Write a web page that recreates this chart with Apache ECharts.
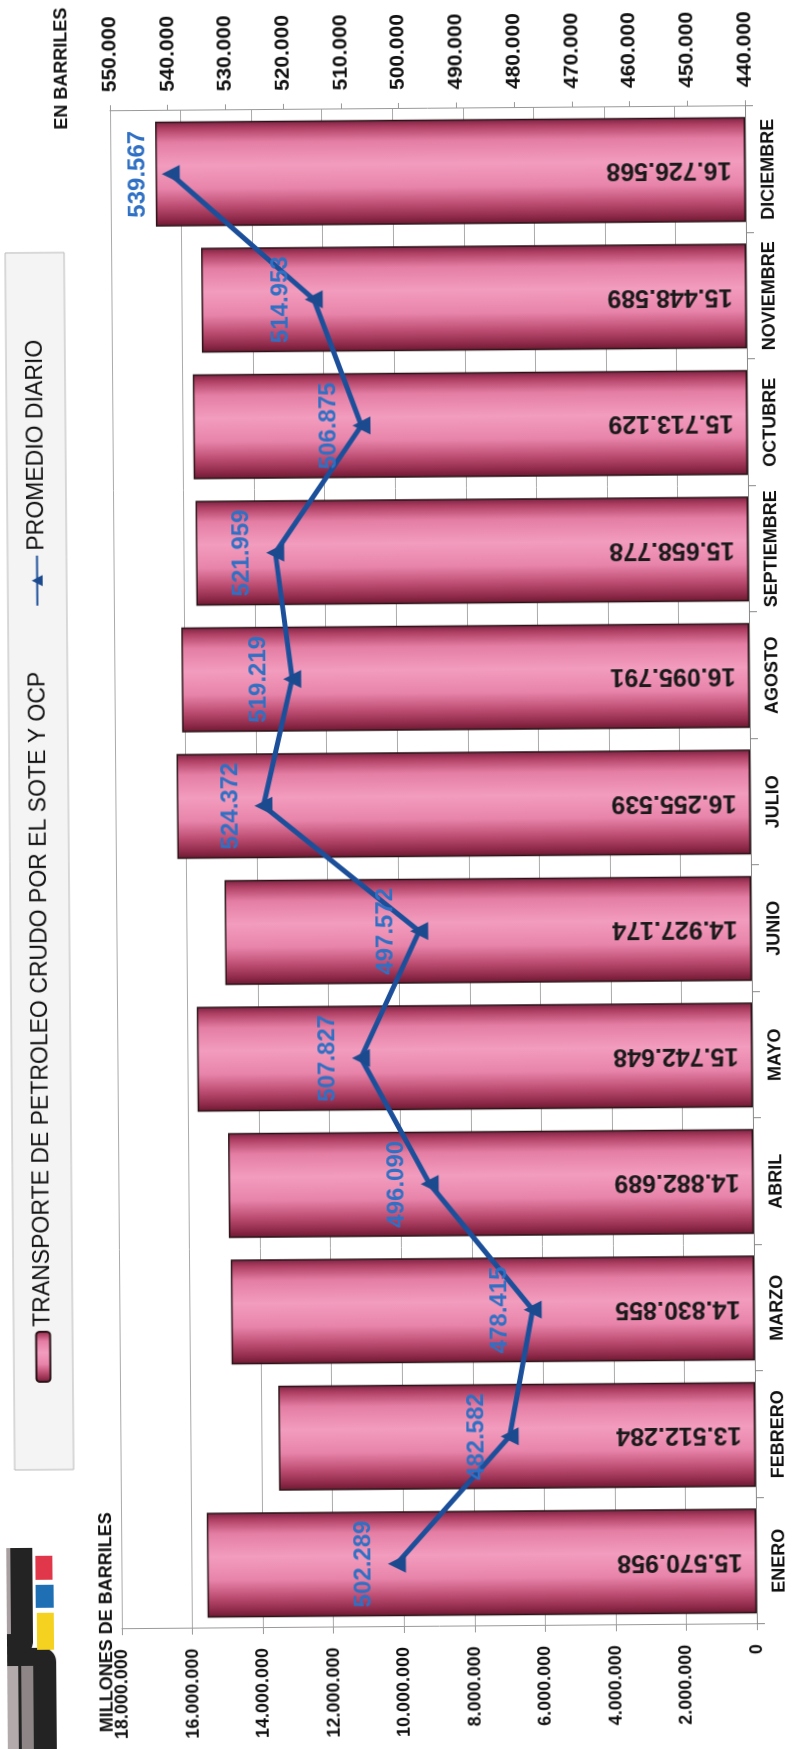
<!DOCTYPE html>
<html>
<head>
<meta charset="utf-8">
<title>Transporte de petroleo crudo</title>
<script src="https://cdn.jsdelivr.net/npm/echarts@6.0.0/dist/echarts.min.js"></script>
<style>
  html, body { margin: 0; padding: 0; background: #fff; }
  #page { position: relative; width: 794px; height: 1749px; overflow: hidden; transform: rotate(-0.45deg); }
  /* the sheet is printed sideways: draw it landscape and turn it */
  #chart { position: absolute; left: 0; top: 0; width: 1749px; height: 794px;
           transform-origin: 0 0; transform: translate(0px, 1749px) rotate(-90deg); }
</style>
</head>
<body>
<div id="page"><div id="chart"></div></div>
<script>
var months = ['ENERO', 'FEBRERO', 'MARZO', 'ABRIL', 'MAYO', 'JUNIO', 'JULIO', 'AGOSTO', 'SEPTIEMBRE', 'OCTUBRE', 'NOVIEMBRE', 'DICIEMBRE']
var barrelsMonth = [15570958, 13512284, 14830855, 14882689, 15742648, 14927174, 16255539, 16095791, 15658778, 15713129, 15448589, 16726568]
var dailyAvg = [502289, 482582, 478415, 496090, 507827, 497572, 524372, 519219, 521959, 506875, 514953, 539567]
var barName = 'TRANSPORTE DE PETROLEO CRUDO POR EL SOTE Y OCP'
var lineName = 'PROMEDIO DIARIO'

var font = 'Liberation Sans, Arial, sans-serif'

function fmt(v) {
  return String(Math.round(v)).replace(/\B(?=(\d{3})+(?!\d))/g, '.')
}

var chart = echarts.init(document.getElementById('chart'), null, { renderer: 'canvas' })

// cylinder look, dark rims and a pink middle
var barFill = new echarts.graphic.LinearGradient(0, 0, 1, 0, [
  { offset: 0, color: '#6a1830' },
  { offset: 0.07, color: '#8f2a4a' },
  { offset: 0.2, color: '#bf4f74' },
  { offset: 0.36, color: '#e884aa' },
  { offset: 0.58, color: '#f29cbe' },
  { offset: 0.8, color: '#e47da3' },
  { offset: 0.93, color: '#b04165' },
  { offset: 1, color: '#7a2140' }
])

chart.setOption({
  animation: false,
  textStyle: { fontFamily: font },
  legend: {
    left: 282,
    top: 10,
    padding: [18, 87],
    itemGap: 65,
    itemWidth: 50,
    itemHeight: 14,
    backgroundColor: '#f4f4f4',
    borderColor: '#b8b8b8',
    borderWidth: 1,
    textStyle: { fontSize: 23, color: '#111', fontFamily: font },
    data: [
      { name: barName, icon: 'roundRect' },
      { name: lineName }
    ]
  },
  grid: { left: 122, right: 109, top: 116, bottom: 43 },
  xAxis: {
    type: 'category',
    data: months,
    axisLine: { lineStyle: { color: '#888', width: 1 } },
    axisTick: { show: true, length: 8, lineStyle: { color: '#888' } },
    axisLabel: { interval: 0, fontSize: 18, fontWeight: 'bold', color: '#111', margin: 14 }
  },
  yAxis: [
    {
      type: 'value',
      min: 0,
      max: 18000000,
      interval: 2000000,
      axisLine: { show: true, lineStyle: { color: '#999' } },
      axisTick: { show: true, length: 6, lineStyle: { color: '#999' } },
      splitLine: { show: true, lineStyle: { color: '#aaa', width: 1 } },
      axisLabel: { fontSize: 18, fontWeight: 'bold', color: '#111', margin: 20, formatter: fmt }
    },
    {
      type: 'value',
      position: 'right',
      min: 440000,
      max: 550000,
      interval: 10000,
      axisLine: { show: true, lineStyle: { color: '#999' } },
      axisTick: { show: true, length: 6, lineStyle: { color: '#999' } },
      splitLine: { show: false },
      axisLabel: { fontSize: 21, fontWeight: 'bold', color: '#111', margin: 19, formatter: fmt }
    }
  ],
  series: [
    {
      name: barName,
      type: 'bar',
      yAxisIndex: 0,
      data: barrelsMonth,
      barCategoryGap: '17%',
      itemStyle: { color: barFill, borderColor: '#2a1418', borderWidth: 1.5 },
      label: {
        show: true,
        position: 'insideBottom',
        distance: 14,
        rotate: 90,
        align: 'left',
        verticalAlign: 'middle',
        fontSize: 25,
        fontWeight: 'bold',
        color: '#1a1a1a',
        formatter: function(p) { return fmt(p.value) }
      },
      z: 2
    },
    {
      name: lineName,
      type: 'line',
      yAxisIndex: 1,
      data: dailyAvg,
      symbol: 'triangle',
      symbolSize: 18,
      lineStyle: { color: '#1c4f9a', width: 5 },
      itemStyle: { color: '#1b4a8f' },
      label: {
        show: true,
        position: 'top',
        distance: 12,
        fontSize: 24,
        fontWeight: 'bold',
        color: '#2f70c4',
        formatter: function(p) { return fmt(p.value) }
      },
      z: 5
    }
  ],
  graphic: [
    // axis titles
    { type: 'text', left: 19, top: 92, style: { text: 'MILLONES DE BARRILES', font: 'bold 18px ' + font, fill: '#111' } },
    { type: 'text', right: 5, top: 59, style: { text: 'EN BARRILES', font: 'bold 18px ' + font, fill: '#111' } },
    // logo corner
    { type: 'rect', shape: { x: -11, y: 0, width: 115, height: 50, r: [0, 0, 14, 0] }, style: { fill: '#232323' } },
    { type: 'rect', shape: { x: 0, y: 0, width: 86, height: 12 }, style: { fill: '#b3abab' } },
    { type: 'rect', shape: { x: 0, y: 15, width: 86, height: 12 }, style: { fill: '#8e8686' } },
    { type: 'rect', shape: { x: 99, y: -10, width: 105, height: 37, r: [0, 0, 0, 10] }, style: { fill: '#232323' } },
    { type: 'rect', shape: { x: 118, y: 0, width: 86, height: 5 }, style: { fill: '#a8a0a0' } },
    { type: 'rect', shape: { x: 172, y: 30, width: 24, height: 17 }, style: { fill: '#e0384a' } },
    { type: 'rect', shape: { x: 144, y: 30, width: 23, height: 18 }, style: { fill: '#1f6fb5' } },
    { type: 'rect', shape: { x: 102, y: 31, width: 37, height: 17 }, style: { fill: '#f5d220' } }
  ]
})
</script>
</body>
</html>
